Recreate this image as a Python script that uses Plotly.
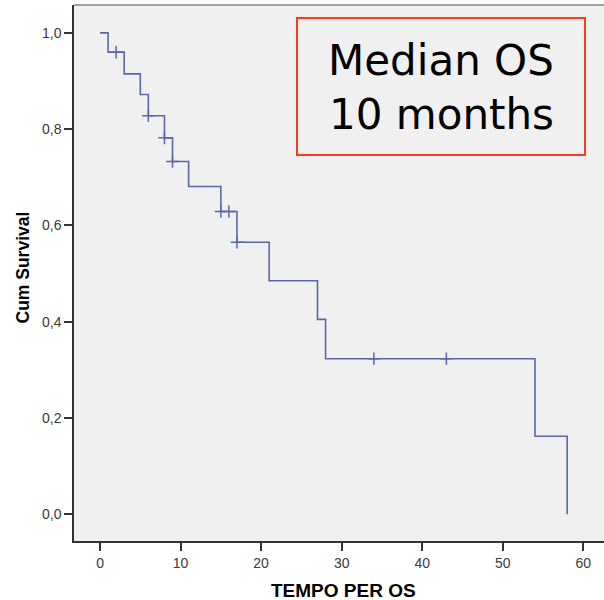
import plotly.graph_objects as go

# Kaplan-Meier step data (time in months, cumulative survival)
event_times = [0, 1, 3, 5, 6, 8, 9, 11, 15, 17, 21, 27, 28, 54, 58]
survival = [1.0, 0.960, 0.915, 0.872, 0.828, 0.782, 0.733, 0.681, 0.629, 0.565, 0.485, 0.405, 0.323, 0.162, 0.0]

# Censored observations
censor_times = [2, 6, 8, 9, 15, 16, 17, 34, 43]
censor_surv = [0.960, 0.828, 0.782, 0.733, 0.629, 0.629, 0.565, 0.323, 0.323]

x_ticks = [0, 10, 20, 30, 40, 50, 60]
y_ticks = [0.0, 0.2, 0.4, 0.6, 0.8, 1.0]
y_tick_labels = ["0,0", "0,2", "0,4", "0,6", "0,8", "1,0"]

line_color = "#5b67aa"
axis_color = "#333333"

fig = go.Figure()
fig.add_trace(go.Scatter(
    x=event_times, y=survival, mode="lines",
    line=dict(color=line_color, width=1.6, shape="hv"),
    showlegend=False, hoverinfo="skip"))
fig.add_trace(go.Scatter(
    x=censor_times, y=censor_surv, mode="markers",
    marker=dict(symbol="cross-thin", size=9, line=dict(color=line_color, width=1.5)),
    showlegend=False, hoverinfo="skip"))

W, H = 604, 600
L, R, T, B = 74, 0, 5, 59

def px(x):
    return (x - L) / (W - L - R)

def py(y):
    return (H - B - y) / (H - T - B)

fig.update_layout(
    width=W, height=H,
    margin=dict(l=L, r=R, t=T, b=B),
    paper_bgcolor="white", plot_bgcolor="#f0f0f0",
    font=dict(family="Liberation Sans, Arial, sans-serif", color=axis_color),
    xaxis=dict(range=[-3.23, 62.57], tickvals=x_ticks, ticks="outside", ticklen=8,
               tickwidth=1.5, tickcolor=axis_color, showline=True, linecolor=axis_color,
               linewidth=1.5, showgrid=False, zeroline=False,
               tickfont=dict(size=14, color="#3a3a3a")),
    yaxis=dict(range=[-0.0555, 1.058], tickvals=y_ticks, ticktext=y_tick_labels,
               ticks="outside", ticklen=8, tickwidth=1.5, tickcolor=axis_color,
               showline=True, linecolor=axis_color, linewidth=1.5, showgrid=False,
               zeroline=False, tickfont=dict(size=14, color="#3a3a3a")),
    shapes=[
        dict(type="line", xref="paper", yref="paper", x0=0, x1=1, y0=1, y1=1,
             line=dict(color="#a0a0a0", width=2)),
        dict(type="rect", xref="paper", yref="paper",
             x0=px(297), x1=px(585), y0=py(155), y1=py(18),
             line=dict(color="#ff3a1a", width=2), fillcolor="rgba(0,0,0,0)"),
    ],
    annotations=[
        dict(text="Median OS", xref="paper", yref="paper", x=px(441), y=py(60),
             showarrow=False, xanchor="center", yanchor="middle", borderpad=0,
             font=dict(family="DejaVu Sans", size=42, color="black")),
        dict(text="10 months", xref="paper", yref="paper", x=px(441), y=py(115),
             showarrow=False, xanchor="center", yanchor="middle", borderpad=0,
             font=dict(family="DejaVu Sans", size=42, color="black")),
        dict(text="<b>Cum Survival</b>", xref="paper", yref="paper", x=px(22), y=py(267.5),
             showarrow=False, xanchor="center", yanchor="middle", textangle=-90,
             font=dict(size=17.5, color="black")),
        dict(text="<b>TEMPO PER OS</b>", xref="paper", yref="paper", x=px(343), y=py(590),
             showarrow=False, xanchor="center", yanchor="middle",
             font=dict(size=19, color="black")),
    ],
)

fig.write_html("out.html")
